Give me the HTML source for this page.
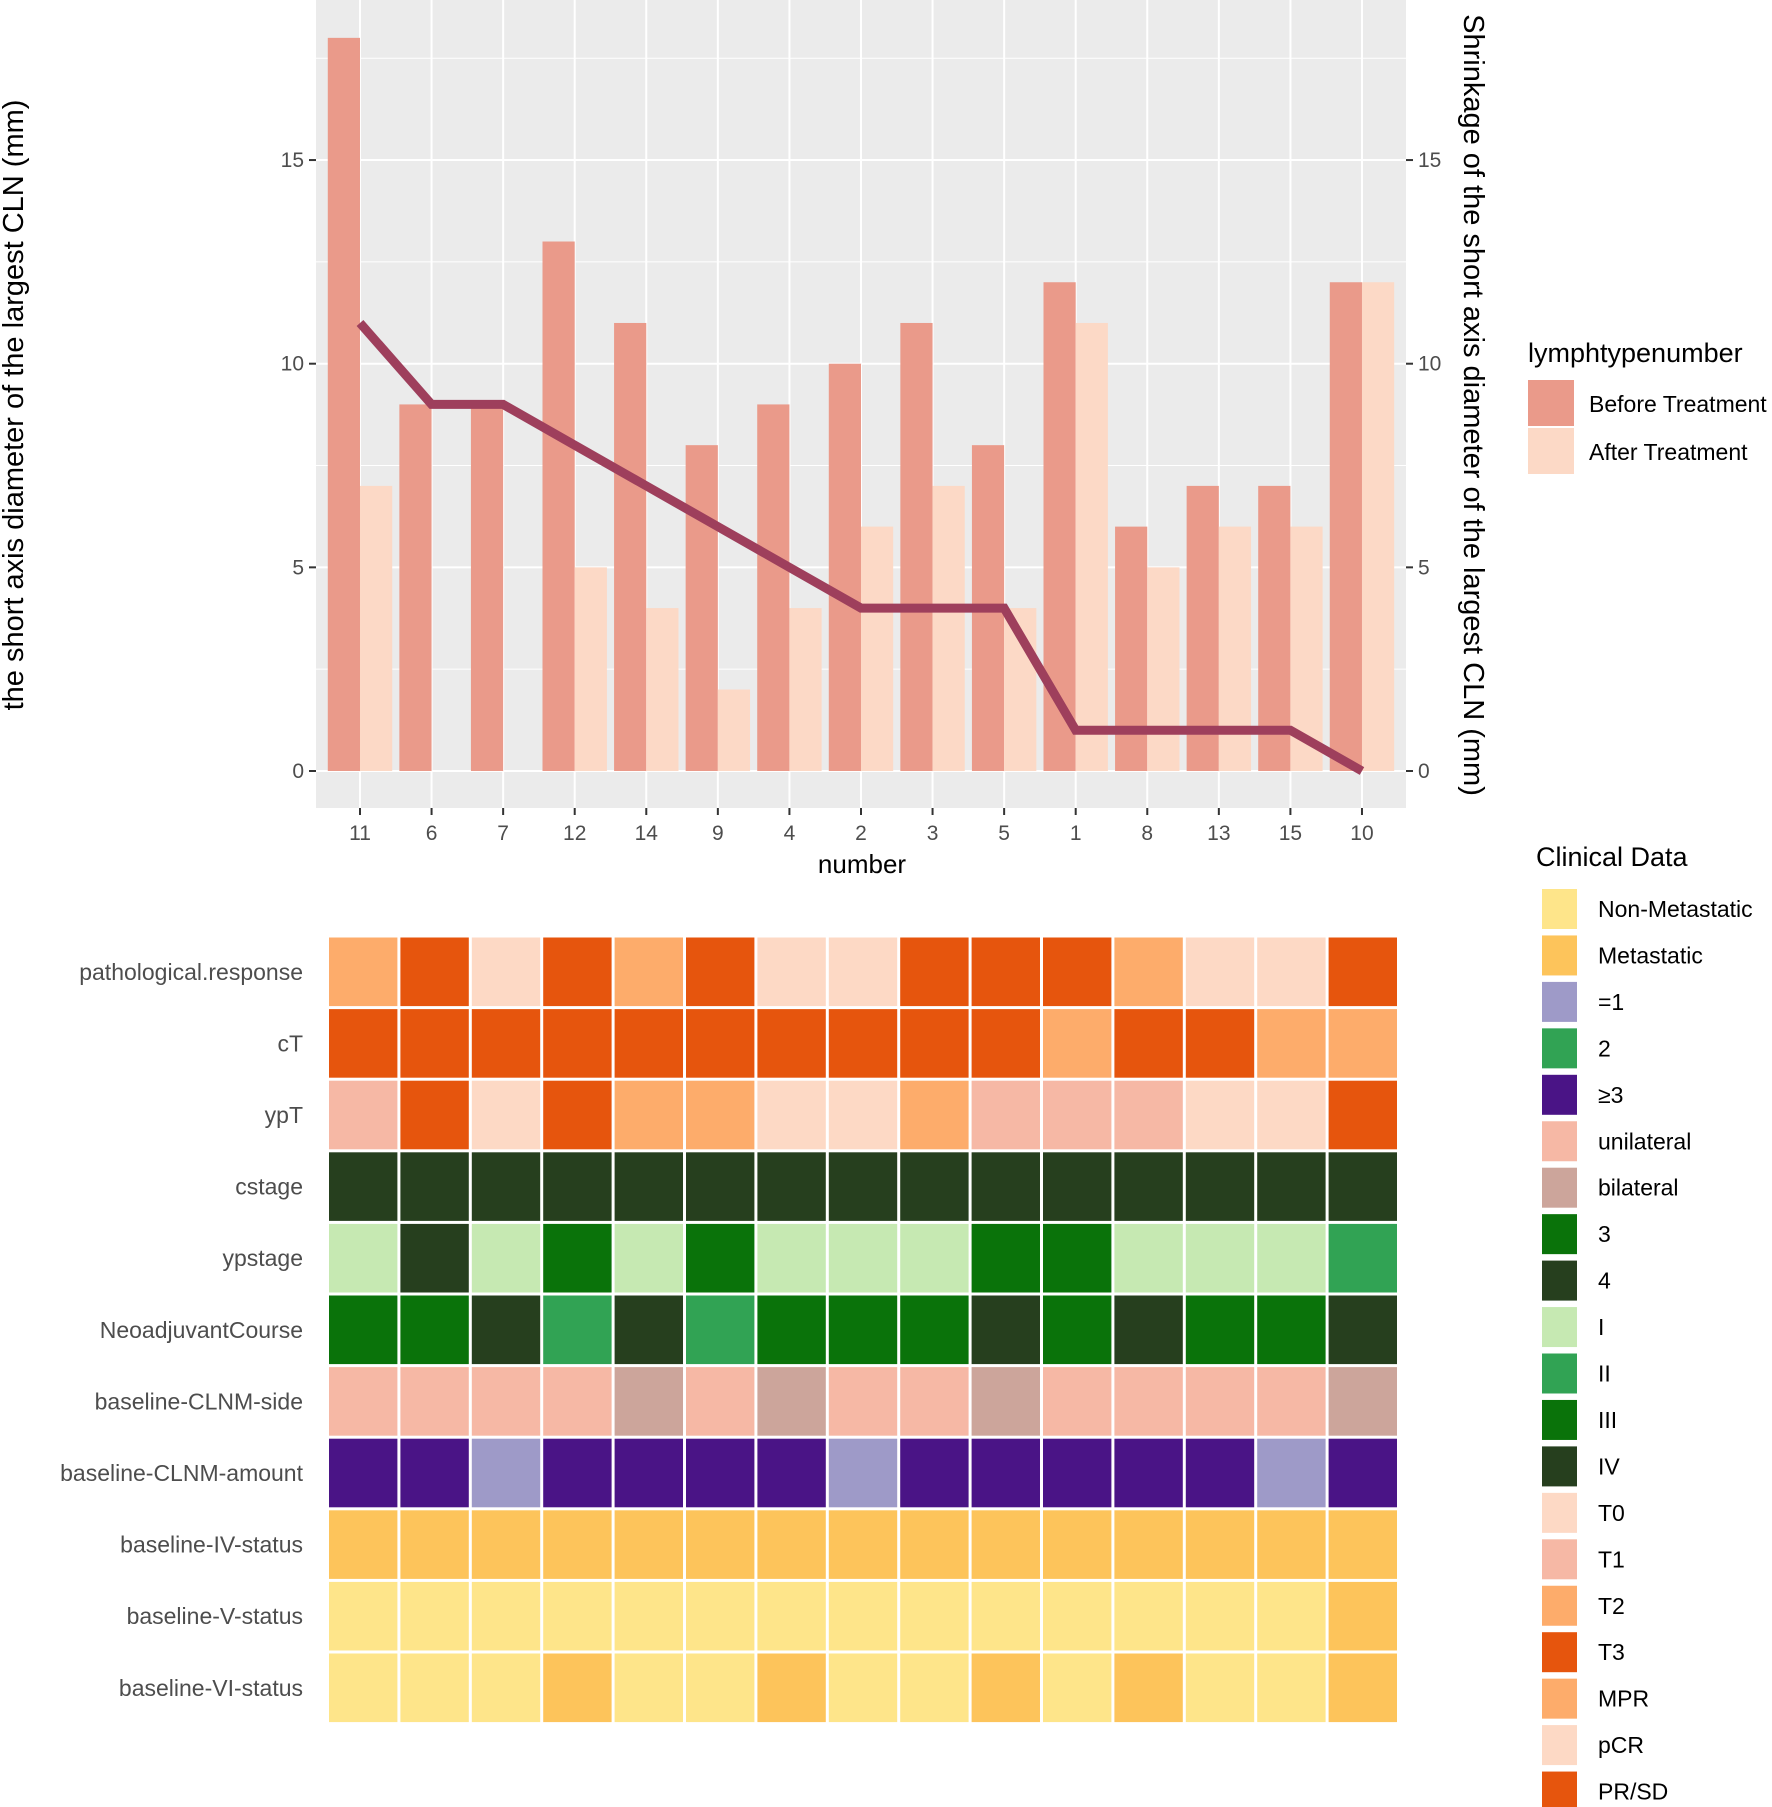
<!DOCTYPE html>
<html><head><meta charset="utf-8"><style>
html,body{margin:0;padding:0;background:#fff;}
svg{display:block;font-family:"Liberation Sans",Arial,sans-serif;}
</style></head><body>
<svg id="chart" width="1772" height="1807" viewBox="0 0 1772 1807" xmlns="http://www.w3.org/2000/svg">
<rect x="316" y="0" width="1090" height="808" fill="#ebebeb"/>
<g id="grid"></g><g id="bars"></g><g id="line"></g><g id="axes"></g><g id="heat"></g><g id="legend"></g>
<text x="0" y="0" transform="translate(23,405) rotate(-90)" text-anchor="middle" font-size="29" fill="#000">the short axis diameter of the largest CLN (mm)</text>
<text x="0" y="0" transform="translate(1464,405) rotate(90)" text-anchor="middle" font-size="29" fill="#000">Shrinkage of the short axis diameter of the largest CLN (mm)</text>
<text x="862" y="873" text-anchor="middle" font-size="26" fill="#000">number</text>
</svg>
<script>
const categories=["11","6","7","12","14","9","4","2","3","5","1","8","13","15","10"];
const beforeVals=[18,9,9,13,11,8,9,10,11,8,12,6,7,7,12];
const afterVals=[7,0,0,5,4,2,4,6,7,4,11,5,6,6,12];
const shrinkVals=[11,9,9,8,7,6,5,4,4,4,1,1,1,1,0];
const yTicks=[0,5,10,15];
const rowNames=["pathological.response","cT","ypT","cstage","ypstage","NeoadjuvantCourse","baseline-CLNM-side","baseline-CLNM-amount","baseline-IV-status","baseline-V-status","baseline-VI-status"];
const rowPath=["MPR","PR/SD","pCR","PR/SD","MPR","PR/SD","pCR","pCR","PR/SD","PR/SD","PR/SD","MPR","pCR","pCR","PR/SD"];
const rowCT=["T3","T3","T3","T3","T3","T3","T3","T3","T3","T3","T2","T3","T3","T2","T2"];
const rowYpT=["T1","T3","T0","T3","T2","T2","T0","T0","T2","T1","T1","T1","T0","T0","T3"];
const rowCstage=["4","4","4","4","4","4","4","4","4","4","4","4","4","4","4"];
const rowYpstage=["I","IV","I","III","I","III","I","I","I","III","III","I","I","I","II"];
const rowCourse=["3","3","4","2","4","2","3","3","3","4","3","4","3","3","4"];
const rowSide=["unilateral","unilateral","unilateral","unilateral","bilateral","unilateral","bilateral","unilateral","unilateral","bilateral","unilateral","unilateral","unilateral","unilateral","bilateral"];
const rowAmount=["≥3","≥3","=1","≥3","≥3","≥3","≥3","=1","≥3","≥3","≥3","≥3","≥3","=1","≥3"];
const rowIV=Array(15).fill("Metastatic");
const rowV=["Non-Metastatic","Non-Metastatic","Non-Metastatic","Non-Metastatic","Non-Metastatic","Non-Metastatic","Non-Metastatic","Non-Metastatic","Non-Metastatic","Non-Metastatic","Non-Metastatic","Non-Metastatic","Non-Metastatic","Non-Metastatic","Metastatic"];
const rowVI=["Non-Metastatic","Non-Metastatic","Non-Metastatic","Metastatic","Non-Metastatic","Non-Metastatic","Metastatic","Non-Metastatic","Non-Metastatic","Metastatic","Non-Metastatic","Metastatic","Non-Metastatic","Non-Metastatic","Metastatic"];
const legendLabels=["Non-Metastatic","Metastatic","=1","2","≥3","unilateral","bilateral","3","4","I","II","III","IV","T0","T1","T2","T3","MPR","pCR","PR/SD"];
const legendColors=["#fee58a","#fdc45b","#9e9ac8","#31a354","#4a1486","#f6b8a5","#cca59b","#0a730a","#263f1e","#c6e9b2","#31a354","#0a730a","#263f1e","#fdd9c5","#f6b8a5","#fdac6b","#e6550d","#fdac6b","#fdd9c5","#e6550d"];
</script>
<script>
const NS="http://www.w3.org/2000/svg";
function mk(tag,attrs,parent){const e=document.createElementNS(NS,tag);for(const k in attrs)e.setAttribute(k,attrs[k]);parent.appendChild(e);return e;}
const X0=360,DX=71.57,Y0=771,UNIT=40.73;
const xs=i=>X0+i*DX, ys=v=>Y0-v*UNIT;
const grid=document.getElementById('grid');
[2.5,7.5,12.5,17.5].forEach(v=>{const l=mk('line',{x1:316,x2:1406,y1:ys(v),y2:ys(v),stroke:'#fff','stroke-width':1},grid);});
yTicks.forEach(v=>{const l=mk('line',{x1:316,x2:1406,y1:ys(v),y2:ys(v),stroke:'#fff','stroke-width':2},grid);});
categories.forEach((c,i)=>{const l=mk('line',{x1:xs(i),x2:xs(i),y1:0,y2:808,stroke:'#fff','stroke-width':2},grid);});
const bars=document.getElementById('bars');const bw=DX*0.45;
categories.forEach((c,i)=>{
 const b=mk('rect',{x:xs(i)-bw,y:ys(beforeVals[i]),width:bw,height:beforeVals[i]*UNIT,fill:'#ea9a8a'},bars);
 
 const a=mk('rect',{x:xs(i),y:ys(afterVals[i]),width:bw,height:afterVals[i]*UNIT,fill:'#fcd9c6'},bars);
 
});
const pl=mk('polyline',{points:shrinkVals.map((v,i)=>xs(i)+','+ys(v)).join(' '),fill:'none',stroke:'#9e3f5c','stroke-width':9,'stroke-linejoin':'miter'},document.getElementById('line'));

const ax=document.getElementById('axes');
yTicks.forEach(v=>{
 mk('line',{x1:309,x2:316,y1:ys(v),y2:ys(v),stroke:'#333','stroke-width':2},ax);
 const t=mk('text',{x:304,y:ys(v)+7,'text-anchor':'end','font-size':21,fill:'#4d4d4d'},ax);t.textContent=v;
 
 mk('line',{x1:1406,x2:1413,y1:ys(v),y2:ys(v),stroke:'#333','stroke-width':2},ax);
 const r=mk('text',{x:1418,y:ys(v)+7,'text-anchor':'start','font-size':21,fill:'#4d4d4d'},ax);r.textContent=v;
 
});
categories.forEach((c,i)=>{
 mk('line',{x1:xs(i),x2:xs(i),y1:808,y2:815,stroke:'#333','stroke-width':2},ax);
 const t=mk('text',{x:xs(i),y:840,'text-anchor':'middle','font-size':21,fill:'#4d4d4d'},ax);t.textContent=c;
 
});
const colorOf={};
legendLabels.forEach((l,i)=>{colorOf[l]=legendColors[i];});
const rows=[rowPath,rowCT,rowYpT,rowCstage,rowYpstage,rowCourse,rowSide,rowAmount,rowIV,rowV,rowVI];
const rowColor=(r,v)=>{
 if(r===4){return {"I":"#c6e9b2","II":"#31a354","III":"#0a730a","IV":"#263f1e"}[v];}
 if(r===5){return {"2":"#31a354","3":"#0a730a","4":"#263f1e"}[v];}
 if(r===3){return {"3":"#0a730a","4":"#263f1e"}[v];}
 if(r===0){return {"MPR":"#fdac6b","pCR":"#fdd9c5","PR/SD":"#e6550d"}[v];}
 return colorOf[v];
};
const heat=document.getElementById('heat');
const HX=327.5,HY=936,HW=71.4,HH=71.6;
rows.forEach((row,r)=>{
 const t=mk('text',{x:303,y:HY+r*HH+HH/2+8,'text-anchor':'end','font-size':23,fill:'#4d4d4d'},heat);t.textContent=rowNames[r];
 
 row.forEach((v,i)=>{
  const c=mk('rect',{x:HX+i*HW+1.5,y:HY+r*HH+1.5,width:HW-3,height:HH-3,fill:rowColor(r,v)},heat);
  
 });
});
const lg=document.getElementById('legend');
let t=mk('text',{x:1528,y:362,'font-size':27,fill:'#000'},lg);t.textContent='lymphtypenumber';

[["Before Treatment","#ea9a8a"],["After Treatment","#fcd9c6"]].forEach((p,i)=>{
 const k=mk('rect',{x:1528,y:380+i*48,width:46,height:46,fill:p[1]},lg);
 
 const s=mk('text',{x:1589,y:412+i*48,'font-size':23,fill:'#000'},lg);s.textContent=p[0];
 
});
t=mk('text',{x:1536,y:866,'font-size':27,fill:'#000'},lg);t.textContent='Clinical Data';

legendLabels.forEach((l,i)=>{
 const k=mk('rect',{x:1542,y:889+i*46.45,width:35,height:40,fill:legendColors[i]},lg);
 
 const s=mk('text',{x:1598,y:917+i*46.45,'font-size':23,fill:'#000'},lg);s.textContent=l;
 
});
</script>
</body></html>
